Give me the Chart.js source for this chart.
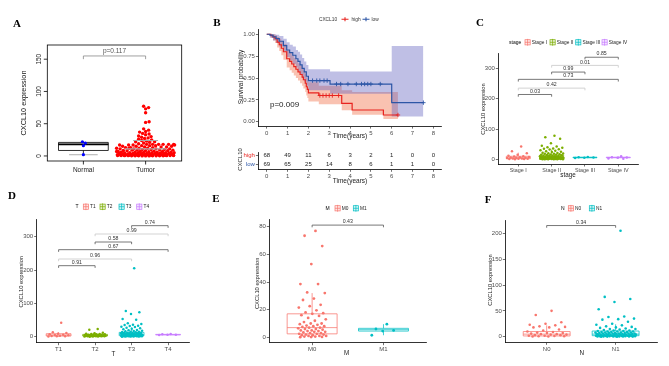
<!DOCTYPE html>
<html>
<head>
<meta charset="utf-8">
<script src="https://cdn.jsdelivr.net/npm/chart.js@4.4.1/dist/chart.umd.min.js"></script>
<style>
  html, body { margin: 0; padding: 0; background: #fff; }
  #page { position: relative; width: 669px; height: 366px; overflow: hidden; }
  .layer { position: absolute; left: 0; top: 0; width: 669px; height: 366px; }
  .tag { position: absolute; font: bold 11px "Liberation Serif", "Times New Roman", serif; transform: translate(-50%, -50%); }
</style>
</head>
<body>
<div id="page">
  <div class="layer"><canvas id="cA"></canvas></div>
  <div class="layer"><canvas id="cB"></canvas></div>
  <div class="layer"><canvas id="cRisk"></canvas></div>
  <div class="layer"><canvas id="cC"></canvas></div>
  <div class="layer"><canvas id="cD"></canvas></div>
  <div class="layer"><canvas id="cE"></canvas></div>
  <div class="layer"><canvas id="cF"></canvas></div>
  <div class="tag" style="left:17px;top:23px">A</div>
  <div class="tag" style="left:217px;top:22px">B</div>
  <div class="tag" style="left:480px;top:22px">C</div>
  <div class="tag" style="left:12px;top:195px">D</div>
  <div class="tag" style="left:216px;top:198px">E</div>
  <div class="tag" style="left:488px;top:199px">F</div>
</div>
<script>
// ---- data: panel A ----
const catsA = ['Normal', 'Tumor'];
const ticksA = [0, 50, 100, 150];
const normalA = [2, 16, 20, 22];
const tumorA = [77, 75, 73, 67, 53, 52, 42, 40, 38, 37, 35, 34, 33, 31, 30, 29, 28, 27, 26, 25, 24, 23, 22, 22, 21, 20, 19,
  18, 18, 18, 18, 18, 18, 17, 17, 17, 17, 16, 16, 16, 15, 15, 15, 14, 14, 14, 13, 13, 13, 12, 12, 12, 12, 11, 11, 11, 11,
  10, 10, 10, 9.5, 9, 9, 9, 8.5, 8, 8, 8, 7.5, 7, 7, 7, 7, 6.5, 6, 6, 6, 6, 5.5, 5, 5, 5, 5, 5, 4.5, 4.5, 4, 4, 4, 4, 4,
  3.5, 3.5, 3, 3, 3, 3, 3, 3, 2.5, 2.5, 2.5, 2, 2, 2, 2, 2, 2, 2, 1.5, 1.5, 1.5, 1.5, 1, 1, 1, 1, 1, 1, 1,
  0.8, 0.8, 0.6, 0.6, 0.5, 0.5, 0.5, 0.4, 0.4, 0.3, 0.3, 0.2, 0.2, 0.2, 0.1, 0.1, 0.1];
const boxA = [{ lo: 2, q1: 8.5, med: 18, q3: 21, hi: 22 }, { lo: 0, q1: 1.5, med: 4, q3: 11, hi: 24 }];
const pA = 'p=0.117';

// ---- data: panel B (Kaplan-Meier) ----
const kmTicks = [0, 1, 2, 3, 4, 5, 6, 7, 8];
const highT = [0, 0.2, 0.3, 0.4, 0.5, 0.6, 0.7, 0.8, 0.96, 1.1, 1.2, 1.3, 1.4, 1.5, 1.6, 1.7, 1.76, 1.85, 1.9, 1.95, 2.0, 2.5, 3.6, 4.1, 5.6, 6.3];
const highS = [1, 0.985, 0.97, 0.95, 0.91, 0.88, 0.84, 0.8, 0.72, 0.69, 0.66, 0.63, 0.6, 0.57, 0.54, 0.51, 0.48, 0.44, 0.4, 0.37, 0.33, 0.3, 0.21, 0.134, 0.077, 0.077];
const highUp = [1, 1, 1, 0.99, 0.97, 0.95, 0.92, 0.89, 0.82, 0.79, 0.76, 0.73, 0.7, 0.67, 0.64, 0.61, 0.58, 0.55, 0.51, 0.48, 0.45, 0.41, 0.36, 0.34, 0.34, 0.34];
const highLo = [1, 0.96, 0.93, 0.9, 0.85, 0.81, 0.76, 0.71, 0.62, 0.59, 0.56, 0.53, 0.5, 0.47, 0.44, 0.41, 0.38, 0.34, 0.3, 0.27, 0.23, 0.2, 0.13, 0.08, 0.03, 0.03];
const lowT = [0, 0.15, 0.3, 0.45, 0.6, 0.8, 0.96, 1.1, 1.25, 1.4, 1.5, 1.6, 1.7, 1.8, 1.9, 2.0, 3.04, 6.0, 7.52];
const lowS = [1, 0.99, 0.97, 0.95, 0.92, 0.87, 0.82, 0.79, 0.76, 0.72, 0.69, 0.65, 0.61, 0.57, 0.52, 0.47, 0.431, 0.218, 0.218];
const lowUp = [1, 1, 1, 0.995, 0.98, 0.95, 0.91, 0.88, 0.86, 0.82, 0.8, 0.77, 0.73, 0.69, 0.65, 0.6, 0.575, 0.865, 0.865];
const lowLo = [1, 0.96, 0.93, 0.9, 0.86, 0.8, 0.74, 0.7, 0.66, 0.62, 0.58, 0.54, 0.5, 0.46, 0.41, 0.36, 0.32, 0.06, 0.06];
const highCens = [2.55, 2.7, 2.85, 3.0, 3.15, 3.45, 6.3];
const lowCens = [2.2, 2.4, 2.55, 2.75, 2.9, 3.35, 3.55, 3.9, 4.3, 4.55, 4.7, 4.85, 5.0, 5.45, 7.52];
const riskHigh = [68, 49, 11, 6, 3, 2, 1, 0, 0];
const riskLow = [69, 65, 25, 14, 8, 6, 1, 1, 0];
const pB = 'p=0.009';

// ---- data: panel C (stage) ----
const stages = ['Stage I', 'Stage II', 'Stage III', 'Stage IV'];
const stageVals = [
  [42, 27, 20, 15, 12, 10, 9, 8, 7, 6, 5, 5, 4, 3, 3, 2, 2, 1, 1, 0.5],
  [78, 73, 68, 53, 45, 42, 40, 38, 36, 35, 33, 32, 30, 28, 27, 25, 24, 22, 21, 20, 19, 18, 18, 17, 16, 15, 15, 14, 13, 12,
   12, 11, 11, 10, 10, 9, 9, 9, 8, 8, 8, 7, 7, 7, 6, 6, 6, 6, 5, 5, 5, 5, 4, 4, 4, 4, 3, 3, 3, 3, 3, 2, 2, 2, 2, 2,
   1.5, 1.5, 1, 1, 1, 1, 0.5, 0.5, 0.5, 0.3, 0.2, 0.1],
  [8, 7, 6, 5, 4],
  [10, 7, 6, 5, 3, 2]
];
const stageBox = [
  { lo: 0, q1: 2, med: 5, q3: 10, hi: 22 }, { lo: 0, q1: 2.5, med: 6.5, q3: 14, hi: 32 },
  { lo: 4, q1: 5, med: 6, q3: 7, hi: 8 }, { lo: 2, q1: 5, med: 6, q3: 7, hi: 10 }
];
const pairs4 = [[1, 2], [1, 3], [1, 4], [2, 3], [2, 4], [3, 4]];
const stageP = ['0.03', '0.42', '0.73', '0.99', '0.01', '0.85'];

// ---- data: panel D (T) ----
const tCats = ['T1', 'T2', 'T3', 'T4'];
const tVals = [
  [42, 13, 11, 9, 7, 6, 5, 4, 3, 2, 1.5, 1, 0.5],
  [23, 21, 12, 10, 9, 8, 8, 7, 7, 6, 6, 6, 5, 5, 5, 4, 4, 4, 4, 3, 3, 3, 3, 2, 2, 2, 2, 1.5, 1.5, 1, 1, 1, 0.5, 0.5, 0.3, 0.2],
  [205, 77, 73, 68, 53, 51, 40, 38, 36, 35, 33, 32, 30, 29, 27, 25, 24, 22, 20, 19, 18, 17, 16, 15, 15, 14, 13, 12, 12, 11,
   11, 10, 10, 10, 9, 9, 9, 8, 8, 8, 8, 7, 7, 7, 7, 6, 6, 6, 6, 5, 5, 5, 5, 5, 4, 4, 4, 4, 4, 3, 3, 3, 3, 3, 2, 2, 2, 2, 2,
   1.5, 1.5, 1.5, 1, 1, 1, 1, 0.5, 0.5, 0.5, 0.3, 0.2],
  [8, 7, 6, 6, 5]
];
const tBox = [
  { lo: 0, q1: 2, med: 5, q3: 9, hi: 14 }, { lo: 0, q1: 2, med: 4, q3: 7, hi: 12 },
  { lo: 0, q1: 3, med: 6, q3: 13, hi: 28 }, { lo: 5, q1: 5.5, med: 6, q3: 7, hi: 8 }
];
const tP = ['0.91', '0.96', '0.67', '0.58', '0.99', '0.74'];

// ---- data: panel E (M) ----
const mCats = ['M0', 'M1'];
const mVals = [
  [77, 73.5, 66, 53, 38.5, 38.5, 32.5, 32, 28, 27, 23.5, 22.5, 21.5, 19.5, 18, 17.5, 17, 16, 15.5, 14, 13, 12, 11, 10, 10,
   9.5, 9, 8.5, 8, 8, 7.5, 7, 7, 6.5, 6, 6, 5.5, 5, 5, 4.5, 4.5, 4, 4, 3.5, 3, 3, 2.5, 2.5, 2, 2, 1.5, 1.5, 1, 1, 1,
   0.5, 0.5, 0.3, 0.2, 0.1],
  [9.5, 6, 5, 4.5, 1.5]
];
const mBox = [{ lo: 0, q1: 2.5, med: 7, q3: 17, hi: 32 }, { lo: 1.5, q1: 4.5, med: 5.5, q3: 6.5, hi: 9.5 }];
const mP = ['0.43'];

// ---- data: panel F (N) ----
const nCats = ['N0', 'N1'];
const nVals = [
  [50, 42, 28, 25, 23, 22, 20, 19, 18, 18, 14, 12, 10, 9, 8, 7, 7, 6, 5, 5, 4, 4, 3, 3, 2, 2, 1.5, 1, 1, 0.5, 0.3],
  [205, 77, 73, 67, 53, 39, 38, 35, 34, 33, 29, 25, 23, 22, 20, 19, 18, 17, 16, 15, 15, 14, 13, 12, 12, 11, 11, 10, 10, 10,
   9, 9, 9, 8, 8, 8, 8, 7, 7, 7, 7, 6, 6, 6, 6, 6, 5, 5, 5, 5, 5, 4, 4, 4, 4, 4, 3, 3, 3, 3, 3, 3, 2, 2, 2, 2, 2, 2,
   1.5, 1.5, 1.5, 1, 1, 1, 1, 1, 0.5, 0.5, 0.5, 0.5, 0.3, 0.3, 0.2, 0.2, 0.1, 0.1]
];
const nBox = [{ lo: 0, q1: 1.5, med: 5, q3: 10, hi: 22 }, { lo: 0, q1: 2, med: 5, q3: 11, hi: 24 }];
const nP = ['0.34'];

// ---- drawing helpers ----
const FONT = '"Liberation Sans", Arial, sans-serif';
const W = 669, H = 366, AXW = 20, AXH = 14;
const RED = '#E8231F', BLUE = '#2D56A6';
const GG4 = ['#F8766D', '#7CAE00', '#00BFC4', '#C77CFF'];
const GG2 = ['#F8766D', '#00BFC4'];
const DK = '#555', LT = '#c8c8c8';
const deco = {};

Chart.register({
  id: 'deco',
  beforeDatasetsDraw(ch) { const d = deco[ch.canvas.id]; if (d && d.under) d.under(ch); },
  afterDatasetsDraw(ch) { const d = deco[ch.canvas.id]; if (d && d.over) d.over(ch); }
});

function txt(ctx, s, x, y, o = {}) {
  ctx.save();
  ctx.font = (o.weight || 'normal') + ' ' + (o.size || 6) + 'px ' + FONT;
  ctx.fillStyle = o.color || '#000';
  ctx.textAlign = o.align || 'center';
  ctx.textBaseline = 'middle';
  ctx.translate(x, y);
  if (o.rot) ctx.rotate(-Math.PI / 2);
  ctx.fillText(s, 0, 0);
  ctx.restore();
}

// deterministic spread of points inside a group
function jx(i, w) { return ((((i + 1) * 0.6180339887) % 1) * 2 - 1) * w; }

// simple beeswarm in pixel space, returns x offsets in axis units
function swarm(vals, pxX, pxY, d, maxOff) {
  const placed = [];
  return vals.map((v, i) => {
    const y = v * pxY;
    let off = null;
    for (let k = 0; k <= 4 * maxOff; k++) {
      const o = (k % 2 ? 1 : -1) * Math.ceil(k / 2) * 0.5;
      if (Math.abs(o) > maxOff) break;
      if (placed.every(p => (p.x - o) ** 2 + (p.y - y) ** 2 >= d * d)) { off = o; break; }
    }
    if (off === null) off = jx(i, maxOff);
    placed.push({ x: off, y });
    return off / pxX;
  });
}

function drawBox(ch, xc, b, w, color, lw) {
  const { ctx, scales: { x, y } } = ch;
  const x0 = x.getPixelForValue(xc - w / 2), x1 = x.getPixelForValue(xc + w / 2), xm = x.getPixelForValue(xc);
  const py = v => y.getPixelForValue(v);
  ctx.save();
  ctx.strokeStyle = color; ctx.lineWidth = lw;
  ctx.beginPath();
  ctx.moveTo(xm, py(b.hi)); ctx.lineTo(xm, py(b.q3));
  ctx.moveTo(xm, py(b.q1)); ctx.lineTo(xm, py(b.lo));
  ctx.rect(x0, py(b.q3), x1 - x0, py(b.q1) - py(b.q3));
  ctx.moveTo(x0, py(b.med)); ctx.lineTo(x1, py(b.med));
  ctx.stroke();
  ctx.restore();
}

function bracket(ch, x1, x2, yv, label, color, o = {}) {
  const { ctx, scales: { x, y } } = ch;
  const a = x.getPixelForValue(x1), b = x.getPixelForValue(x2), py = y.getPixelForValue(yv);
  const tip = o.tip || 2.2;
  ctx.save();
  ctx.strokeStyle = color; ctx.lineWidth = 0.8;
  ctx.beginPath();
  ctx.moveTo(a, py + tip); ctx.lineTo(a, py); ctx.lineTo(b, py); ctx.lineTo(b, py + tip);
  ctx.stroke();
  ctx.restore();
  txt(ctx, label, (a + b) / 2, py - (o.dy || 3.3), { size: o.fs || 5.2, color: o.tcol || '#333' });
}

function ggLegend(ctx, L) {
  txt(ctx, L.title, L.tx, L.y, { size: 5, align: 'left' });
  L.items.forEach(it => {
    const s = 5.2, x0 = it.x, y0 = L.y - s / 2;
    ctx.save();
    ctx.globalAlpha = 0.18; ctx.fillStyle = it.color; ctx.fillRect(x0, y0, s, s);
    ctx.globalAlpha = 1; ctx.strokeStyle = it.color; ctx.lineWidth = 0.7;
    ctx.strokeRect(x0, y0, s, s);
    ctx.beginPath();
    ctx.moveTo(x0 + s / 2, y0 - 0.8); ctx.lineTo(x0 + s / 2, y0 + s + 0.8);
    ctx.moveTo(x0, y0 + s / 2); ctx.lineTo(x0 + s, y0 + s / 2);
    ctx.stroke();
    ctx.restore();
    txt(ctx, it.label, x0 + s + 1.6, L.y, { size: 4.8, align: 'left', color: '#222' });
  });
}

function ggScale(min, max, ticks, fmt, axis, tickColor, fs) {
  return {
    type: 'linear', min, max,
    afterBuildTicks: s => { s.ticks = ticks.map(v => ({ value: v })); },
    afterFit: s => { if (axis === 'y') s.width = AXW; else s.height = AXH; },
    grid: { drawOnChartArea: false, drawTicks: true, tickLength: 2.5, color: '#333', lineWidth: 0.7 },
    border: { display: true, color: '#000', width: 0.8 },
    ticks: { font: { size: fs || 6, family: FONT }, color: tickColor || '#4D4D4D', padding: 1, autoSkip: false,
      maxRotation: 0, minRotation: 0, callback: fmt }
  };
}

function baseOpts(area, scales, axes) {
  const aw = axes ? AXW : 0, ah = axes ? AXH : 0;
  return {
    responsive: true, maintainAspectRatio: false, animation: false, events: [],
    layout: { padding: { left: area.l - aw, top: area.t, right: W - area.r, bottom: H - area.b - ah } },
    plugins: { legend: { display: false }, tooltip: { enabled: false } },
    scales
  };
}

const zip = (T, S) => T.map((t, i) => ({ x: t, y: S[i] }));
function stepAt(T, S, t) { let s = S[0]; T.forEach((tt, i) => { if (tt <= t) s = S[i]; }); return s; }

// ---- panel A: base-R style beeswarm with boxes ----
const areaA = { l: 47.3, t: 45, r: 181.7, b: 161 };
const pxXA = (areaA.r - areaA.l) / 2.16, pxYA = (areaA.b - areaA.t) / 179.8;
const offN = swarm(normalA, pxXA, pxYA, 3, 10);
const offT = swarm(tumorA.slice().reverse(), pxXA, pxYA, 3.2, 29).reverse();
deco.cA = {
  under: ch => {
    const { ctx, scales: { x, y } } = ch;
    drawBox(ch, 1, boxA[0], 0.8, '#000', 0.8);
    ctx.save(); ctx.strokeStyle = '#000'; ctx.lineWidth = 1.8; ctx.beginPath();
    ctx.moveTo(x.getPixelForValue(0.6), y.getPixelForValue(boxA[0].med)); ctx.lineTo(x.getPixelForValue(1.4), y.getPixelForValue(boxA[0].med));
    ctx.stroke();
    ctx.strokeStyle = '#bbb'; ctx.lineWidth = 1.2; ctx.beginPath();
    ctx.moveTo(x.getPixelForValue(0.77), y.getPixelForValue(boxA[0].lo)); ctx.lineTo(x.getPixelForValue(1.23), y.getPixelForValue(boxA[0].lo));
    ctx.stroke(); ctx.restore();
  },
  over: ch => {
    const { ctx, chartArea: a, scales: { x, y } } = ch;
    ctx.save(); ctx.strokeStyle = '#aaa'; ctx.lineWidth = 1.1; ctx.beginPath();
    ctx.moveTo(x.getPixelForValue(1.8), y.getPixelForValue(boxA[1].hi)); ctx.lineTo(x.getPixelForValue(2.2), y.getPixelForValue(boxA[1].hi));
    ctx.moveTo(x.getPixelForValue(1.67), y.getPixelForValue(boxA[1].q3)); ctx.lineTo(x.getPixelForValue(2.33), y.getPixelForValue(boxA[1].q3));
    ctx.stroke(); ctx.restore();
    ctx.save(); ctx.strokeStyle = '#000'; ctx.lineWidth = 0.8;
    ctx.strokeRect(a.left, a.top, a.right - a.left, a.bottom - a.top);
    ctx.beginPath();
    ticksA.forEach(v => { const p = y.getPixelForValue(v); ctx.moveTo(a.left - 3.5, p); ctx.lineTo(a.left, p); });
    catsA.forEach((c, i) => { const p = x.getPixelForValue(i + 1); ctx.moveTo(p, a.bottom); ctx.lineTo(p, a.bottom + 3.5); });
    ctx.stroke(); ctx.restore();
    ticksA.forEach(v => txt(ctx, String(v), 39, y.getPixelForValue(v), { size: 6.5, rot: true, color: '#222' }));
    catsA.forEach((c, i) => txt(ctx, c, x.getPixelForValue(i + 1), 170, { size: 6.5, color: '#222' }));
    txt(ctx, 'CXCL10 expression', 24, 103, { size: 7.3, rot: true, color: '#111' });
    bracket(ch, 1, 2, 155, pA, '#888', { tip: 3.2, fs: 6.5, dy: 5, tcol: '#555' });
  }
};
new Chart('cA', {
  type: 'scatter',
  data: { datasets: [
    { data: normalA.map((v, i) => ({ x: 1 + offN[i], y: v })), backgroundColor: '#0000FF', borderColor: '#0000FF', pointRadius: 1.6, borderWidth: 0 },
    { data: tumorA.map((v, i) => ({ x: 2 + offT[i], y: v })), backgroundColor: '#FF0000', borderColor: '#FF0000', pointRadius: 1.7, borderWidth: 0 }
  ] },
  options: baseOpts(areaA, {
    x: { type: 'linear', min: 0.42, max: 2.58, display: false },
    y: { type: 'linear', min: -7.8, max: 172, display: false }
  }, false)
});

// ---- panel B: survival curves ----
const areaB = { l: 258.4, t: 29.9, r: 441.7, b: 126.1 };
const band = (T, S, col, fill, order) => ({ data: zip(T, S), stepped: true, borderWidth: 1, borderColor: 'rgba(0,0,0,0)',
  pointRadius: 0, fill, backgroundColor: col, order });
deco.cB = {
  over: ch => {
    const ctx = ch.ctx;
    txt(ctx, 'Survival probability', 241, 77, { size: 6.5, rot: true, color: '#222' });
    txt(ctx, 'Time(years)', 350, 136.5, { size: 6.5, color: '#222' });
    txt(ctx, pB, 270, 104.3, { size: 8, align: 'left', color: '#222' });
    txt(ctx, 'CXCL10', 328, 19.3, { size: 4.8, color: '#333' });
    [[341.5, RED, 'high', 351.5], [362.5, BLUE, 'low', 371.5]].forEach(([x0, c, l, tx]) => {
      ctx.save(); ctx.strokeStyle = c; ctx.lineWidth = 1.1; ctx.beginPath();
      ctx.moveTo(x0, 19.3); ctx.lineTo(x0 + 7, 19.3); ctx.moveTo(x0 + 3.5, 17.3); ctx.lineTo(x0 + 3.5, 21.3);
      ctx.stroke(); ctx.restore();
      txt(ctx, l, tx, 19.3, { size: 4.8, align: 'left', color: '#333' });
    });
  }
};
new Chart('cB', {
  type: 'line',
  data: { datasets: [
    band(highT, highLo, 'rgba(0,0,0,0)', false, 11),
    band(highT, highUp, 'rgba(240,110,70,0.42)', '-1', 11),
    band(lowT, lowLo, 'rgba(0,0,0,0)', false, 10),
    band(lowT, lowUp, 'rgba(95,95,190,0.4)', '-1', 10),
    { data: zip(highT, highS), stepped: true, borderColor: RED, borderWidth: 1.2, pointRadius: 0, fill: false, order: 2 },
    { data: zip(lowT, lowS), stepped: true, borderColor: BLUE, borderWidth: 1.2, pointRadius: 0, fill: false, order: 1 },
    { data: highCens.map(t => ({ x: t, y: stepAt(highT, highS, t) })), showLine: false, pointStyle: 'cross', pointRadius: 2.2,
      borderColor: RED, borderWidth: 0.9, order: 0 },
    { data: lowCens.map(t => ({ x: t, y: stepAt(lowT, lowS, t) })), showLine: false, pointStyle: 'cross', pointRadius: 2.2,
      borderColor: BLUE, borderWidth: 0.9, order: 0 }
  ] },
  options: baseOpts(areaB, {
    x: ggScale(-0.4, 8.4, kmTicks, v => v, 'x'),
    y: ggScale(-0.05, 1.05, [0, 0.25, 0.5, 0.75, 1], v => v.toFixed(2), 'y')
  }, true)
});

// ---- panel B: number at risk table ----
const areaRisk = { l: 258.4, t: 152, r: 441.7, b: 169.3 };
deco.cRisk = {
  over: ch => {
    const { ctx, scales: { x, y } } = ch;
    riskHigh.forEach((n, i) => txt(ctx, String(n), x.getPixelForValue(kmTicks[i]), y.getPixelForValue(2), { size: 6, color: '#222' }));
    riskLow.forEach((n, i) => txt(ctx, String(n), x.getPixelForValue(kmTicks[i]), y.getPixelForValue(1), { size: 6, color: '#222' }));
    txt(ctx, 'CXCL10', 240.5, 159.5, { size: 6, rot: true, color: '#222' });
    txt(ctx, 'Time(years)', 350, 181.7, { size: 6.5, color: '#222' });
  }
};
new Chart('cRisk', {
  type: 'scatter',
  data: { datasets: [] },
  options: baseOpts(areaRisk, {
    x: ggScale(-0.4, 8.4, kmTicks, v => v, 'x'),
    y: ggScale(0.42, 2.43, [1, 2], v => (v === 2 ? 'high' : 'low'), 'y', c => (c.tick && c.tick.value === 2 ? RED : BLUE))
  }, true)
});

// ---- ggplot style box + jitter panels ----
function ggPanel(id, o) {
  deco[id] = {
    under: ch => o.boxes.forEach((b, g) => drawBox(ch, g + 1, b, o.bw, o.colors[g], 0.75)),
    over: ch => {
      o.brackets.forEach(k => bracket(ch, k[0], k[1], k[2], k[3], k[4]));
      ggLegend(ch.ctx, o.legend);
      txt(ch.ctx, o.xTitle, o.xTitlePos[0], o.xTitlePos[1], { size: 6.3, color: '#222' });
      txt(ch.ctx, 'CXCL10 expression', o.yTitlePos[0], o.yTitlePos[1], { size: 5.8, rot: true, color: '#222' });
    }
  };
  return new Chart(id, {
    type: 'scatter',
    data: { datasets: o.groups.map((vals, g) => ({
      data: vals.map((v, i) => ({ x: g + 1 + jx(i, o.jw), y: v })),
      backgroundColor: o.colors[g], borderColor: o.colors[g], pointRadius: o.pr, borderWidth: 0 })) },
    options: baseOpts(o.area, {
      x: ggScale(0.4, o.cats.length + 0.6, o.cats.map((c, i) => i + 1), v => o.cats[v - 1], 'x', null, o.xfs),
      y: ggScale(o.yMin, o.yMax, o.yTicks, v => v, 'y')
    }, true)
  });
}
const brk = (pairs, ps, heights, cols) => pairs.map((p, k) => [p[0], p[1], heights[k], ps[k], cols[k]]);

ggPanel('cC', {
  area: { l: 498.3, t: 53.3, r: 638.3, b: 164 }, cats: stages, groups: stageVals, boxes: stageBox, colors: GG4,
  yMin: -15.5, yMax: 350, yTicks: [0, 100, 200, 300], jw: 0.36, pr: 1.25, bw: 0.72, xfs: 5.4,
  brackets: brk(pairs4, stageP, [214, 235, 264, 288, 310, 337], [DK, LT, DK, DK, LT, DK]),
  legend: { title: 'stage', tx: 509, y: 42.3, items: stages.map((s, i) => ({ x: [525, 550, 575.7, 602][i], label: s, color: GG4[i] })) },
  xTitle: 'stage', xTitlePos: [568, 175], yTitlePos: [483, 109]
});

ggPanel('cD', {
  area: { l: 36.7, t: 219, r: 190, b: 342.7 }, cats: tCats, groups: tVals, boxes: tBox, colors: GG4,
  yMin: -18, yMax: 353, yTicks: [0, 100, 200, 300], jw: 0.3, pr: 1.25, bw: 0.68,
  brackets: brk(pairs4, tP, [213, 233, 261, 284, 308, 333], [DK, LT, DK, DK, LT, DK]),
  legend: { title: 'T', tx: 75.5, y: 206.7, items: tCats.map((s, i) => ({ x: [83.3, 100, 119, 136.7][i], label: s, color: GG4[i] })) },
  xTitle: 'T', xTitlePos: [113.3, 354], yTitlePos: [21.7, 281.7]
});

ggPanel('cE', {
  area: { l: 269.3, t: 219.3, r: 426.3, b: 342.7 }, cats: mCats, groups: mVals, boxes: mBox, colors: GG2,
  yMin: -3.9, yMax: 85.4, yTicks: [0, 20, 40, 60, 80], jw: 0.2, pr: 1.4, bw: 0.7,
  brackets: brk([[1, 2]], mP, [81.2], [DK]),
  legend: { title: 'M', tx: 325.5, y: 208.3, items: mCats.map((s, i) => ({ x: [335, 353.3][i], label: s, color: GG2[i] })) },
  xTitle: 'M', xTitlePos: [346.7, 353.5], yTitlePos: [257.3, 283.3]
});

ggPanel('cF', {
  area: { l: 505.3, t: 220, r: 657, b: 342.3 }, cats: nCats, groups: nVals, boxes: nBox, colors: GG2,
  yMin: -10.8, yMax: 225.7, yTicks: [0, 50, 100, 150, 200], jw: 0.3, pr: 1.3, bw: 0.68,
  brackets: brk([[1, 2]], nP, [215], [DK]),
  legend: { title: 'N', tx: 561, y: 208.3, items: nCats.map((s, i) => ({ x: [568.3, 589.3][i], label: s, color: GG2[i] })) },
  xTitle: 'N', xTitlePos: [581.7, 353.5], yTitlePos: [490, 280]
});
</script>
</body>
</html>
